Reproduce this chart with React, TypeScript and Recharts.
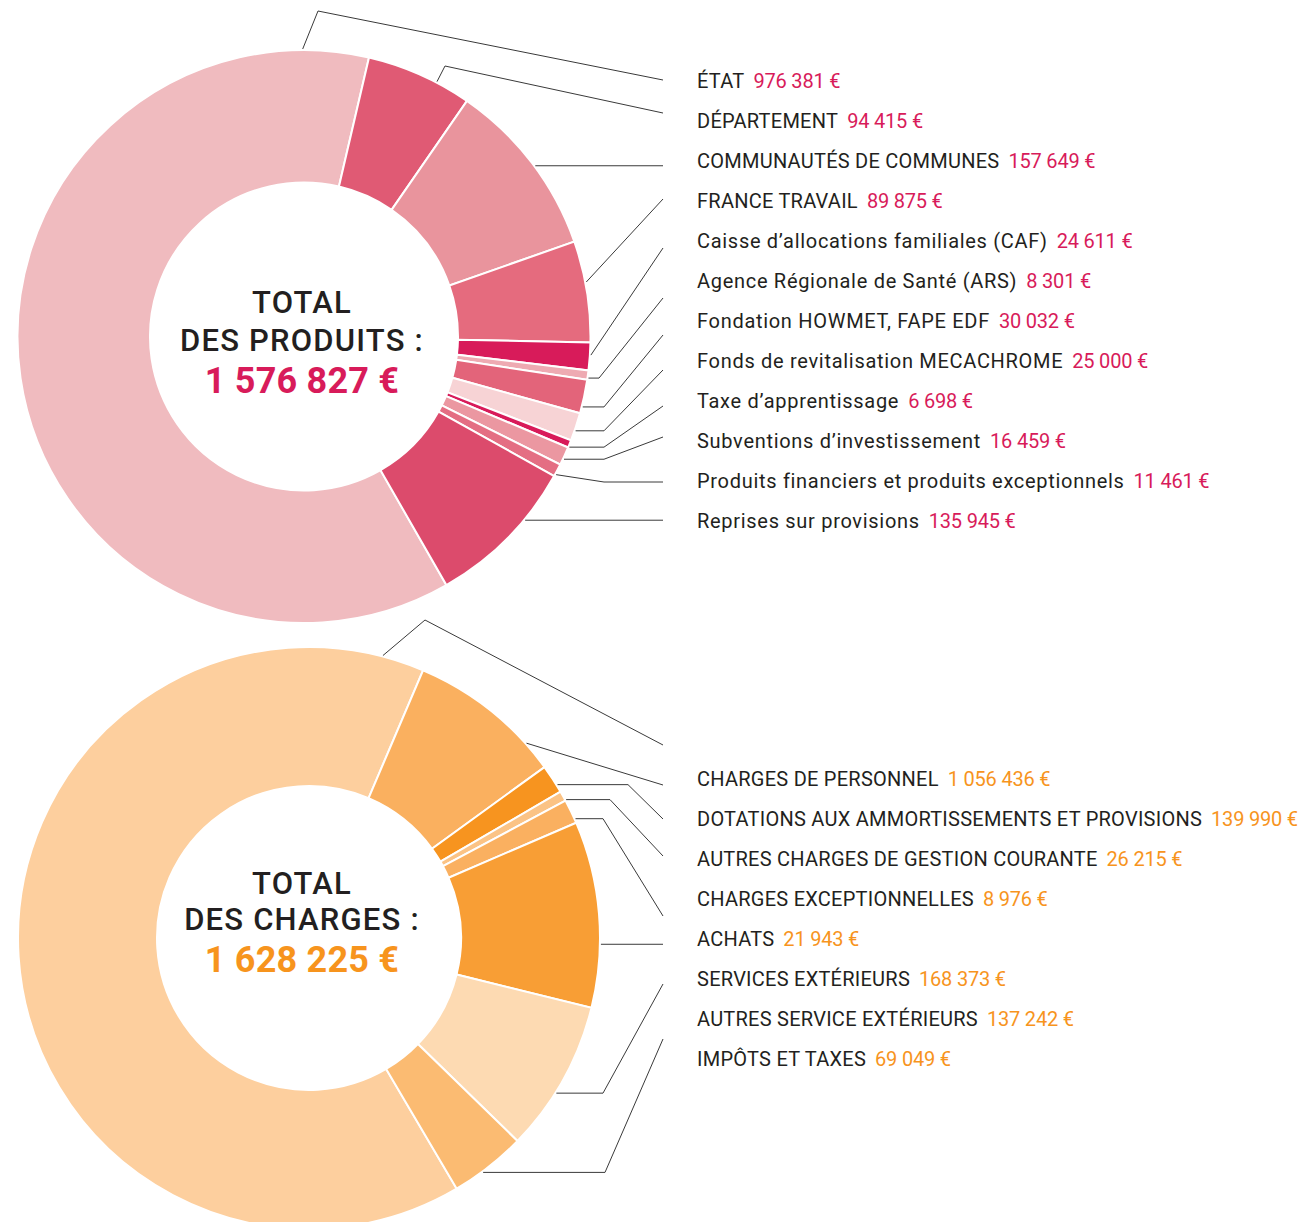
import { PieChart, Pie, Cell } from "recharts";

// --- data ---
const produitsNames = [
  "ÉTAT",
  "DÉPARTEMENT",
  "COMMUNAUTÉS DE COMMUNES",
  "FRANCE TRAVAIL",
  "Caisse d’allocations familiales (CAF)",
  "Agence Régionale de Santé (ARS)",
  "Fondation HOWMET, FAPE EDF",
  "Fonds de revitalisation MECACHROME",
  "Taxe d’apprentissage",
  "Subventions d’investissement",
  "Produits financiers et produits exceptionnels",
  "Reprises sur provisions",
];
const produitsValues = [976381, 94415, 157649, 89875, 24611, 8301, 30032, 25000, 6698, 16459, 11461, 135945];
const produitsColors = [
  "#f0bbbf", "#e05a74", "#e9949d", "#e56b7e", "#d81b5a", "#eeaab2",
  "#e3647a", "#f7d3d5", "#d81b5a", "#eb97a1", "#e46e83", "#dc4b6c",
];

const chargesNames = [
  "CHARGES DE PERSONNEL",
  "DOTATIONS AUX AMMORTISSEMENTS ET PROVISIONS",
  "AUTRES CHARGES DE GESTION COURANTE",
  "CHARGES EXCEPTIONNELLES",
  "ACHATS",
  "SERVICES EXTÉRIEURS",
  "AUTRES SERVICE EXTÉRIEURS",
  "IMPÔTS ET TAXES",
];
const chargesValues = [1056436, 139990, 26215, 8976, 21943, 168373, 137242, 69049];
const chargesColors = ["#fdcf9e", "#fab05f", "#f7941f", "#fbc385", "#fab060", "#f89e35", "#fddab2", "#fbbb72"];

const produitsTotal = 1576827;
const chargesTotal = 1628225;

// --- leader line layout (f = position along the slice, bend = elbow, endY = where it meets x=663) ---
type Leader = { f: number; bend?: [number, number | null]; endY: number | null };
const produitsLeaders: Leader[] = [
  { f: 0.94, bend: [318, 11], endY: 80 },
  { f: 0.67, bend: [445, 66], endY: 113 },
  { f: 0.525, endY: null },
  { f: 0.41, endY: 199 },
  { f: 0.45, endY: 248 },
  { f: 0.8, bend: [599, null], endY: 298 },
  { f: 0.8, bend: [604, null], endY: 335 },
  { f: 0.63, bend: [604, null], endY: 370 },
  { f: 0.9, bend: [604, null], endY: 406 },
  { f: 0.66, bend: [604, null], endY: 437 },
  { f: 0.83, bend: [604, 482], endY: 482 },
  { f: 0.34, endY: null },
];
const chargesLeaders: Leader[] = [
  { f: 0.964, bend: [425, 620], endY: 745 },
  { f: 0.81, endY: 785 },
  { f: 0.74, bend: [628, null], endY: 819 },
  { f: 0.95, bend: [610, null], endY: 856 },
  { f: 0.84, bend: [603, null], endY: 916 },
  { f: 0.66, endY: null },
  { f: 0.6, bend: [603, null], endY: 984 },
  { f: 0.6, bend: [605, null], endY: 1039 },
];

const PINK = "#d81b5a";
const ORANGE = "#f7941d";
const TEXT = "#231f20";
const LINE_X = 663;
const TEXT_X = 697;
const ROW_GAP = 40;
const FONT = "Roboto, 'Noto Sans', sans-serif";
const RAD = Math.PI / 180;

const fmt = (v: number) => String(v).replace(/\B(?=(\d{3})+(?!\d))/g, " ") + " €";

const produitsData = produitsNames.map((name, i) => ({ name, value: produitsValues[i] }));
const chargesData = chargesNames.map((name, i) => ({ name, value: chargesValues[i] }));

function makeLabel(leaders: Leader[], rowTop: number, valueColor: string) {
  return (props: any) => {
    const { cx, cy, outerRadius, startAngle, endAngle, index, payload } = props;
    const l = leaders[index];
    const a = startAngle + l.f * (endAngle - startAngle);
    const sx = cx + (outerRadius + 1) * Math.cos(-a * RAD);
    const sy = cy + (outerRadius + 1) * Math.sin(-a * RAD);
    const pts: number[][] = [[sx, sy]];
    if (l.bend) pts.push([l.bend[0], l.bend[1] ?? sy]);
    pts.push([LINE_X, l.endY ?? sy]);
    const rowY = rowTop + index * ROW_GAP;
    // caps-only labels are already wide in Roboto, lowercase ones need more air
    const spacing = payload.name === payload.name.toUpperCase() ? 0.25 : 0.7;
    return (
      <g key={`lbl-${index}`}>
        <polyline points={pts.map((p) => p.join(",")).join(" ")} fill="none" stroke="#3a3a3a" strokeWidth={1} />
        <text x={TEXT_X} y={rowY + 1} dominantBaseline="central" fontFamily={FONT} fontSize={20}>
          <tspan fill={TEXT} letterSpacing={spacing}>{payload.name}</tspan>
          <tspan dx={9} fill={valueColor} letterSpacing={-0.2}>{fmt(payload.value)}</tspan>
        </text>
      </g>
    );
  };
}

function CenterText({ x, y, lines, total, color }: { x: number; y: number[]; lines: string[]; total: number; color: string }) {
  const common = {
    position: "absolute" as const,
    left: x - 160,
    width: 320,
    textAlign: "center" as const,
    fontFamily: FONT,
    whiteSpace: "nowrap" as const,
  };
  return (
    <>
      {lines.map((t, i) => (
        <div key={i} style={{ ...common, top: y[i] - 20, height: 40, lineHeight: "40px", fontSize: 31, fontWeight: 500, letterSpacing: 1.2, color: TEXT }}>
          {t}
        </div>
      ))}
      <div style={{ ...common, top: y[2] - 22, height: 44, lineHeight: "44px", fontSize: 36, fontWeight: 700, letterSpacing: 0.2, color }}>
        {fmt(total)}
      </div>
    </>
  );
}

export default function App() {
  return (
    <div style={{ position: "absolute", left: 0, top: 0, width: 1310, height: 1222, background: "#fff", overflow: "hidden" }}>
      <PieChart width={1310} height={1222} margin={{ top: 0, right: 0, bottom: 0, left: 0 }}>
        <Pie
          data={produitsData}
          dataKey="value"
          nameKey="name"
          cx={304}
          cy={336.5}
          innerRadius={154}
          outerRadius={286.5}
          startAngle={-60.2}
          endAngle={-420.2}
          stroke="#fff"
          strokeWidth={2}
          label={makeLabel(produitsLeaders, 80, PINK)}
          labelLine={false}
          isAnimationActive={false}
        >
          {produitsData.map((d, i) => (
            <Cell key={d.name} fill={produitsColors[i]} />
          ))}
        </Pie>
        <Pie
          data={chargesData}
          dataKey="value"
          nameKey="name"
          cx={309}
          cy={938}
          innerRadius={152}
          outerRadius={291}
          startAngle={-59.5}
          endAngle={-419.5}
          stroke="#fff"
          strokeWidth={2}
          label={makeLabel(chargesLeaders, 778, ORANGE)}
          labelLine={false}
          isAnimationActive={false}
        >
          {chargesData.map((d, i) => (
            <Cell key={d.name} fill={chargesColors[i]} />
          ))}
        </Pie>
      </PieChart>
      <CenterText x={302} y={[303, 341, 381]} lines={["TOTAL", "DES PRODUITS :"]} total={produitsTotal} color={PINK} />
      <CenterText x={302} y={[884, 920, 960]} lines={["TOTAL", "DES CHARGES :"]} total={chargesTotal} color={ORANGE} />
    </div>
  );
}
